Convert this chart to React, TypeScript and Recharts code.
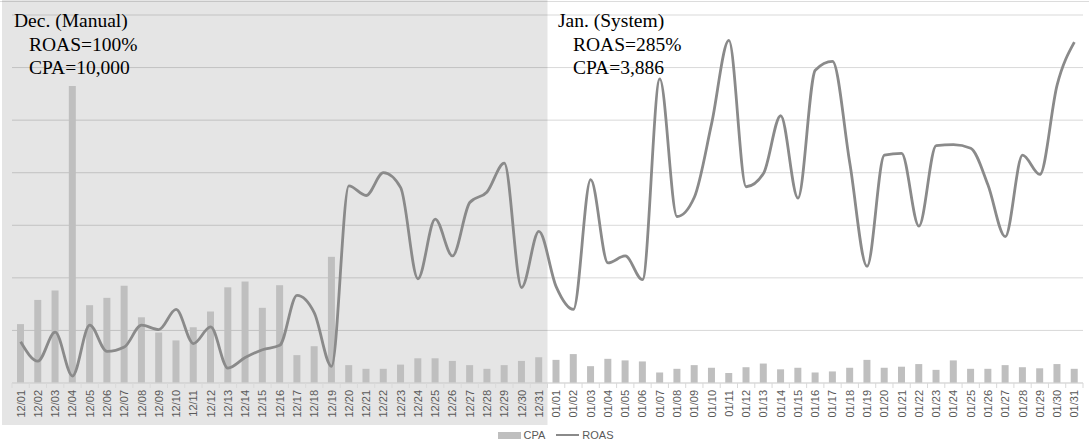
import { ComposedChart, Bar, Line, XAxis, YAxis, CartesianGrid, Legend, ReferenceArea } from "recharts";

// category labels
const decDays = [
	"12/01", "12/02", "12/03", "12/04", "12/05", "12/06", "12/07", "12/08", "12/09", "12/10",
	"12/11", "12/12", "12/13", "12/14", "12/15", "12/16", "12/17", "12/18", "12/19", "12/20",
	"12/21", "12/22", "12/23", "12/24", "12/25", "12/26", "12/27", "12/28", "12/29", "12/30", "12/31",
];
const janDays = [
	"01/01", "01/02", "01/03", "01/04", "01/05", "01/06", "01/07", "01/08", "01/09", "01/10",
	"01/11", "01/12", "01/13", "01/14", "01/15", "01/16", "01/17", "01/18", "01/19", "01/20",
	"01/21", "01/22", "01/23", "01/24", "01/25", "01/26", "01/27", "01/28", "01/29", "01/30", "01/31",
];

// CPA (bars)
const cpaDec = [
	11200, 15800, 17600, 56500, 14800, 16200, 18500, 12500, 9600, 8100,
	10600, 13600, 18200, 19300, 14300, 18600, 5300, 7000, 24000, 3400,
	2700, 2700, 3500, 4700, 4700, 4200, 3400, 2700, 3400, 4200, 4900,
];
const cpaJan = [
	4400, 5500, 3200, 4600, 4300, 4100, 2000, 2700, 3400, 2900,
	1900, 3000, 3700, 2600, 2900, 2000, 2200, 2900, 4400, 2900,
	3100, 3600, 2500, 4300, 2700, 2700, 3400, 3000, 2800, 3600, 2700,
];

// ROAS % (line)
const roasDec = [
	47, 25, 58, 8, 66, 36, 41, 66, 61, 84,
	45, 64, 17, 29, 38, 43, 100, 80, 19, 225,
	214, 240, 223, 119, 187, 145, 206, 218, 251, 109, 173,
];
const roasJan = [
	110, 84, 232, 137, 145, 118, 347, 190, 212, 296,
	391, 224, 239, 305, 211, 357, 367, 251, 133, 260,
	262, 179, 271, 272, 268, 226, 167, 260, 238, 340, 389,
];

const cpaTicks = [0, 10000, 20000, 30000, 40000, 50000, 60000, 70000];

const allDays = [...decDays, ...janDays];
const allCpa = [...cpaDec, ...cpaJan];
const allRoas = [...roasDec, ...roasJan];
const data = allDays.map((date, i) => ({ date, cpa: allCpa[i], roas: allRoas[i] }));

const sans = "'Liberation Sans', Arial, sans-serif";
const serif = "'Liberation Serif', 'Times New Roman', serif";

// rotated label + Excel-style tick marks between categories
const DateTick = ({ x, y, payload, index }: any) => {
	const half = payload.offset || 0;
	return (
		<g>
			<line x1={x - half} x2={x - half} y1={y - 7} y2={y - 2} stroke="#d9d9d9" />
			{index === allDays.length - 1 && <line x1={x + half} x2={x + half} y1={y - 7} y2={y - 2} stroke="#d9d9d9" />}
			<text transform={`translate(${x},${y}) rotate(-90)`} textAnchor="end" dy="0.36em" fill="#595959" fontSize={11} fontFamily={sans}>
				{payload.value}
			</text>
		</g>
	);
};

const LegendBox = () => (
	<div style={{ display: "flex", justifyContent: "center", alignItems: "center", height: 20, paddingLeft: 16, fontFamily: sans, fontSize: 11, color: "#595959" }}>
		<span style={{ display: "inline-block", width: 23, height: 7, background: "#bfbfbf", marginRight: 3 }} />
		<span>CPA</span>
		<span style={{ display: "inline-block", width: 23, height: 0, borderTop: "2.5px solid #8a8a8a", marginLeft: 11, marginRight: 3 }} />
		<span>ROAS</span>
	</div>
);

// shading reaches past the plot, down over the date labels
const Shade = (p: any) => <rect x={p.x - 10} y={0} width={p.width + 10} height={425} fill="#000" fillOpacity={0.1} />;

export default function App() {
	return (
		<div style={{ position: "absolute", left: 0, top: 0, width: 1089, height: 447, background: "#fff" }}>
			<div style={{ position: "absolute", left: 0, top: 1, width: 1089, height: 1, background: "#dcdcdc" }} />
			<ComposedChart width={1089} height={447} data={data} margin={{ top: 15, right: 6, left: 12, bottom: 2 }} barCategoryGap={0}>
				<CartesianGrid vertical={false} stroke="#d9d9d9" yAxisId="cpa" />
				<XAxis dataKey="date" interval={0} height={42} tickLine={false} tickSize={6} tickMargin={1} axisLine={{ stroke: "#d9d9d9" }} tick={<DateTick />} />
				<YAxis yAxisId="cpa" hide domain={[0, 70000]} ticks={cpaTicks} />
				<YAxis yAxisId="roas" hide orientation="right" domain={[0, 420]} />
				<Legend verticalAlign="bottom" height={20} content={<LegendBox />} />
				<Bar yAxisId="cpa" dataKey="cpa" name="CPA" fill="#bfbfbf" barSize={7} isAnimationActive={false} />
				<Line yAxisId="roas" dataKey="roas" name="ROAS" type="monotone" stroke="#8a8a8a" strokeWidth={2.8} dot={false} isAnimationActive={false} />
				<ReferenceArea yAxisId="cpa" x1="12/01" x2="12/31" ifOverflow="visible" shape={<Shade />} />
			</ComposedChart>
			<svg width={1089} height={100} style={{ position: "absolute", left: 0, top: 0, pointerEvents: "none" }}>
				<g fontFamily={serif} fontSize={19.5} fill="#000">
					<text x={14} y={27}>Dec. (Manual)</text>
					<text x={29} y={50.5}>ROAS=100%</text>
					<text x={29} y={74}>CPA=10,000</text>
					<text x={558} y={27}>Jan. (System)</text>
					<text x={573} y={50.5}>ROAS=285%</text>
					<text x={573} y={74}>CPA=3,886</text>
				</g>
			</svg>
		</div>
	);
}
